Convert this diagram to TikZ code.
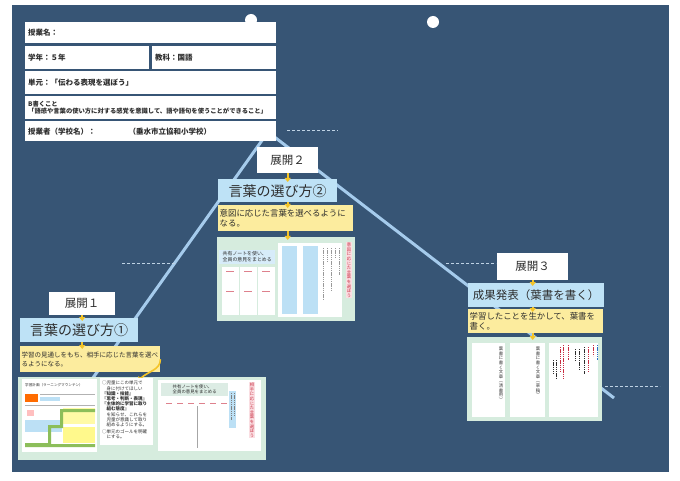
\documentclass[tikz,border=0pt]{standalone}
\usepackage{fontspec}
\setmainfont{Noto Sans CJK JP}
\usetikzlibrary{arrows.meta,positioning}

\definecolor{board}{RGB}{55,85,117}
\definecolor{trail}{RGB}{165,203,236}
\definecolor{titleblue}{RGB}{190,226,246}
\definecolor{goalyel}{RGB}{252,236,158}
\definecolor{panelgrn}{RGB}{214,236,222}
\definecolor{tipyel}{RGB}{244,196,40}
\definecolor{dashcol}{RGB}{190,210,228}
\definecolor{inkgray}{RGB}{45,45,45}
\definecolor{labpink}{RGB}{250,222,226}
\definecolor{labred}{RGB}{200,45,65}
\definecolor{stripblue}{RGB}{188,224,245}
\definecolor{capgrn}{RGB}{220,236,228}
\definecolor{mtgreen}{RGB}{140,190,90}
\definecolor{noteblue}{RGB}{40,110,200}

% vertical (tategaki) text: one character per line
\makeatletter
\newcommand\tate[1]{\tate@first#1\relax}
\def\tate@first#1{#1\tate@next}
\def\tate@next#1{\ifx#1\relax\else\\#1\expandafter\tate@next\fi}
\makeatother

\begin{document}
\begin{tikzpicture}[x=1pt, y=-1pt,
    hdr/.style={fill=white, anchor=north west, text=inkgray, align=left,
                inner xsep=3pt, inner ysep=0pt, font=\bfseries\fontsize{7.5}{9}\selectfont},
    stage/.style={fill=white, anchor=north west, text=inkgray, inner sep=0pt,
                  font=\fontsize{11.5}{12}\selectfont},
    theme/.style={fill=titleblue, anchor=north west, text=inkgray, inner sep=0pt,
                  font=\fontsize{14}{15}\selectfont},
    aim/.style={fill=goalyel, anchor=north west, text=inkgray, align=left,
                inner xsep=1.5pt, inner ysep=0pt},
    panel/.style={fill=panelgrn, anchor=north west, inner sep=0pt},
    sheet/.style={fill=white, anchor=north west, inner sep=0pt},
    tatelab/.style={anchor=north, align=center, inner sep=0.8pt,
                    font=\fontsize{4.3}{4.6}\selectfont},
    pointer/.style={draw=tipyel, line width=1.6pt, shorten >=-3pt,
                    -{Triangle[width=6pt,length=4pt]}},
    trailline/.style={draw=trail, line width=3pt},
    guide/.style={draw=dashcol, line width=0.8pt, dash pattern=on 3pt off 2pt},
    scrawl/.style={line width=0.9pt, dash pattern=on 1.4pt off 0.8pt}]

  % board
  \fill[white] (0,0) rectangle (680,481);
  \useasboundingbox (0,0) rectangle (680,481);
  \fill[board] (12,5) rectangle (669,472);
  \fill[white] (251,20) circle (6pt);
  \fill[white] (433,22) circle (6pt);

  % the learning mountain
  \coordinate (base) at (90,382);
  \coordinate (peak) at (268,132);
  \coordinate (foot) at (614,398);
  \draw[trailline] (base) -- (peak) -- (foot);

  \draw[guide] (287,130) -- (338,130);
  \draw[guide] (122,263) -- (175,263);
  \draw[guide] (446,263) -- (496,263);
  \draw[guide] (605,386) -- (660,386);

  % header
  \node[hdr, text width=245pt, minimum height=21pt] (lesson)  at (25,22)  {授業名：};
  \node[hdr, text width=118pt, minimum height=23pt] (grade)   at (25,46)  {学年：５年};
  \node[hdr, text width=118pt, minimum height=23pt] (subject) at (152,46) {教科：国語};
  \node[hdr, text width=245pt, minimum height=23pt] (unit)    at (25,71)  {単元：「伝わる表現を選ぼう」};
  \node[hdr, text width=245pt, minimum height=23pt,
        font=\bfseries\fontsize{6.3}{7.6}\selectfont] (target) at (25,96)
        {B書くこと\\「語感や言葉の使い方に対する感覚を意識して、語や語句を使うことができること」};
  \node[hdr, text width=245pt, minimum height=20pt] (teacher) at (25,121)
        {授業者（学校名）：\hspace*{33pt}（垂水市立協和小学校）};

  % 展開1
  \node[stage, minimum width=66pt, minimum height=23pt]  (h1) at (49,292) {展開１};
  \node[theme, minimum width=118pt, minimum height=24pt] (t1) at (20,318) {言葉の選び方①};
  \node[aim, text width=137pt, minimum height=26pt, font=\fontsize{6.5}{9}\selectfont] (g1) at (20,346)
        {学習の見通しをもち、相手に応じた言葉を選べ\\るようになる。};
  \node[panel, minimum width=248pt, minimum height=83pt] (p1) at (18,377) {};
  \coordinate (d1) at (140,379);
  \draw[pointer] (h1.south) -- (h1.south |- t1.north);
  \draw[pointer] (h1.south |- t1.south) -- (h1.south |- g1.north);
  \draw[pointer] (g1.east) to[out=-90, in=45] (d1);

  \node[sheet, minimum width=75pt, minimum height=73pt] (plan) at (22,379) {};
  \node[anchor=west, inner sep=0pt, text=inkgray, font=\fontsize{3.6}{4}\selectfont] (plantitle) at (25,385)
        {学習計画（ラーニングマウンテン）};
  \fill[orange!85!red] (25,394) rectangle (38,402);
  \fill[stripblue] (40,397) rectangle (60,401);
  \draw[gray!60, line width=0.4pt] (40,394) -- (95,394);
  \draw[gray!60, line width=0.4pt] (25,405) -- (95,405);
  \fill[red!25] (27,410) rectangle (34,416);
  \fill[yellow!35] (63,408) rectangle (95,424);
  \fill[stripblue] (25,420) rectangle (62,432);
  \fill[yellow!45] (63,427) rectangle (95,443);
  \fill[mtgreen] (25,447) -- (25,443) -- (48,443) -- (48,425) -- (60,425) -- (60,409)
        -- (95,409) -- (95,412) -- (63,412) -- (63,428) -- (51,428) -- (51,444)
        -- (95,444) -- (95,447) -- cycle;

  \node[sheet, minimum width=53pt, minimum height=67pt] (memo) at (100,378) {};
  \node[anchor=north west, inner sep=0pt, align=left, text=inkgray,
        font=\fontsize{4.5}{5.2}\selectfont] (memotext) at (102,381)
        {○児童にこの単元で\\　身に付けてほしい\\\textbf{『知識・技能』}\\\textbf{『思考・判断・表現』}\\
         \textbf{『主体的に学習に取り}\\\textbf{　組む態度』}\\　を知らせ、これらを\\
         　児童が意識して取り\\　組めるようにする。\\[1.5pt]○単元のゴールを明確\\　にする。};

  \node[sheet, minimum width=103pt, minimum height=71pt] (share1) at (158,380) {};
  \node[anchor=north west, fill=capgrn, inner sep=1.5pt, align=left, text=inkgray,
        minimum width=67pt, font=\fontsize{4.4}{5.4}\selectfont] (share1cap) at (161,383)
        {共有ノートを使い、\\全員の意見をまとめる};
  \foreach \x in {166,177,188,199,210,221}
    \draw[labred!60, line width=0.8pt] (\x,403) -- ++(6,0);
  \draw[gray!70, line width=0.5pt] (197,406) -- (197,448);
  \fill[stripblue] (229,391) rectangle (236,428);
  \draw[scrawl, gray] (231,393) -- (231,420) (234,393) -- (234,416);
  \node[tatelab, fill=labpink, text=labred] (share1lab) at (252,382) {\tate{相手に応じた言葉を選ぼう}};

  % 展開2
  \node[stage, minimum width=61pt, minimum height=26pt]  (h2) at (257,147) {展開２};
  \node[theme, minimum width=119pt, minimum height=23pt] (t2) at (218,179) {言葉の選び方②};
  \node[aim, text width=132pt, minimum height=26pt, font=\fontsize{8.4}{10.5}\selectfont] (g2) at (218,205)
        {意図に応じた言葉を選べるように\\なる。};
  \node[panel, minimum width=138pt, minimum height=84pt] (p2) at (217,237) {};
  \draw[pointer] (h2.south) -- (h2.south |- t2.north);
  \draw[pointer] (h2.south |- t2.south) -- (h2.south |- g2.north);
  \draw[pointer] (h2.south |- g2.south) -- (h2.south |- p2.north);

  \node[anchor=north west, fill=stripblue!60, inner sep=1.5pt, align=left, text=inkgray,
        minimum width=56pt, font=\fontsize{4.9}{6}\selectfont] (share2cap) at (219,250)
        {共有ノートを使い、\\全員の意見をまとめる};
  \foreach \x in {222,240,258} {
    \node[sheet, minimum width=17pt, minimum height=48pt] (col\x) at (\x,267) {};
    \draw[labred!60, line width=0.7pt] (\x+4,271) -- ++(8,0) (\x+4,291) -- ++(8,0);
  }
  \node[sheet, minimum width=64pt, minimum height=74pt] (board2) at (278,243) {};
  \fill[stripblue] (282,246) rectangle (297,314);
  \fill[stripblue] (303,246) rectangle (318,314);
  \foreach \x/\e in {323/300, 327/262, 331/290, 335/258, 339/275}
    \draw[scrawl, gray!80, line width=0.6pt] (\x,248) -- (\x,\e);
  \node[tatelab, fill=labpink, text=labred] (share2lab) at (349,242) {\tate{意図に応じた言葉を選ぼう}};

  % 展開3
  \node[stage, minimum width=71pt, minimum height=27pt]  (h3) at (497,253) {展開３};
  \node[theme, minimum width=136pt, minimum height=24pt, font=\fontsize{11.5}{12}\selectfont] (t3) at (468,283)
        {成果発表（葉書を書く）};
  \node[aim, text width=132pt, minimum height=24pt, font=\fontsize{8.4}{10.5}\selectfont] (g3) at (468,309)
        {学習したことを生かして、葉書を\\書く。};
  \node[panel, minimum width=135pt, minimum height=84pt] (p3) at (467,337) {};
  \draw[pointer] (h3.south) -- (h3.south |- t3.north);
  \draw[pointer] (h3.south |- t3.south) -- (h3.south |- g3.north);
  \draw[pointer] (h3.south |- g3.south) -- (h3.south |- p3.north);

  \node[sheet, minimum width=33pt, minimum height=74pt] (clean) at (472,343) {};
  \node[sheet, minimum width=35pt, minimum height=74pt] (draft) at (510,343) {};
  \node[sheet, minimum width=49pt, minimum height=74pt] (notes) at (549,343) {};
  \node[tatelab, text=inkgray] (cleanlab) at (501,346) {\tate{葉書に書く文章︵清書用︶}};
  \node[tatelab, text=inkgray] (draftlab) at (538,346) {\tate{葉書に書く文章︵草稿︶}};
  \foreach \x/\c/\a/\e in {597/noteblue/345/360, 593/labred/345/356, 588/labred/347/372,
                          584/inkgray/347/374, 579/inkgray/349/370, 575/inkgray/349/362,
                          568/labred/345/360, 563/labred/345/380, 560/labred/347/372,
                          556/inkgray/360/378, 553/inkgray/360/374}
    \draw[scrawl, draw=\c, line width=0.8pt] (\x,\a) -- (\x,\e);

\end{tikzpicture}
\end{document}
